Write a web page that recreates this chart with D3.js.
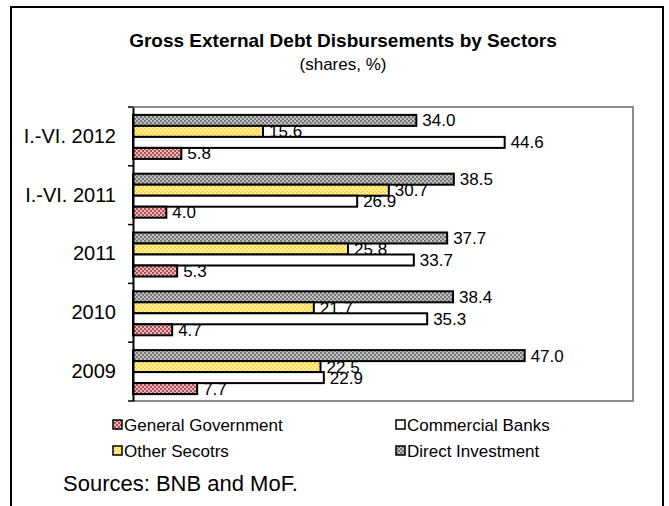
<!DOCTYPE html>
<html><head><meta charset="utf-8">
<script src="https://cdn.jsdelivr.net/npm/d3@7"></script>
<style>body{margin:0;background:#fff;font-family:Arial,"Liberation Sans",sans-serif}</style>
</head><body>
<svg id="c" width="669" height="506"></svg>
<script>
const categories = ["I.-VI. 2012", "I.-VI. 2011", "2011", "2010", "2009"];
const seriesNames = ["General Government", "Commercial Banks", "Other Secotrs", "Direct Investment"];
const generalGovernment = [5.8, 4.0, 5.3, 4.7, 7.7];
const commercialBanks = [44.6, 26.9, 33.7, 35.3, 22.9];
const otherSectors = [15.6, 30.7, 25.8, 21.7, 22.5];
const directInvestment = [34.0, 38.5, 37.7, 38.4, 47.0];
const seriesValues = [generalGovernment, commercialBanks, otherSectors, directInvestment];

const svg = d3.select("#c");
const defs = svg.append("defs");
function checker(id, c1, c2) {
  const p = defs.append("pattern").attr("id", id).attr("width", 4).attr("height", 4)
    .attr("patternUnits", "userSpaceOnUse");
  p.append("rect").attr("width", 4).attr("height", 4).attr("fill", c2);
  p.append("rect").attr("width", 2).attr("height", 2).attr("fill", c1);
  p.append("rect").attr("x", 2).attr("y", 2).attr("width", 2).attr("height", 2).attr("fill", c1);
}
checker("pGG", "#b0505a", "#e8b8b8");
checker("pOS", "#ffd84a", "#fff0a8");
checker("pDI", "#787878", "#c0c0c0");
const fills = ["url(#pGG)", "#ffffff", "url(#pOS)", "url(#pDI)"];

// outer frame
svg.append("path").attr("d", "M11,506 V7 H663 V506").attr("fill", "none")
  .attr("stroke", "#000").attr("stroke-width", 2);

svg.append("text").attr("x", 343).attr("y", 47).attr("text-anchor", "middle")
  .attr("font-weight", "bold").attr("font-size", 19).text("Gross External Debt Disbursements by Sectors");
svg.append("text").attr("x", 343).attr("y", 70).attr("text-anchor", "middle")
  .attr("font-size", 17).text("(shares, %)");

const L = 133, R = 633, T = 107, B = 401;
const x = d3.scaleLinear().domain([0, 60]).range([L, R]);
const y = d3.scaleBand().domain(categories).range([T, B]);
// inner band for the 4 bars (top-to-bottom: DI, OS, CB, GG)
const order = [3, 2, 1, 0];
const barH = 11;
const inner = d3.scaleBand().domain(order).range([0, barH * 4]);

// plot area border
svg.append("path").attr("d", `M${L},${T} H${R} V${B} H${L}`).attr("fill", "none")
  .attr("stroke", "#8c8c8c").attr("stroke-width", 2);

const g = svg.append("g");
categories.forEach((cat, ci) => {
  const off = y(cat) + (y.bandwidth() - barH * 4) / 2 + 0.5;
  order.forEach(si => {
    const v = seriesValues[si][ci];
    const yy = off + inner(si);
    g.append("rect").attr("x", x(0)).attr("y", yy).attr("width", x(v) - x(0)).attr("height", inner.bandwidth())
      .attr("fill", fills[si]).attr("stroke", "#000").attr("stroke-width", 2);
  });
  order.forEach(si => {
    const v = seriesValues[si][ci];
    const yy = off + inner(si);
    g.append("text").attr("x", x(v) + 6).attr("y", yy + inner.bandwidth() / 2 + 6)
      .attr("font-size", 17).text(v.toFixed(1));
  });
});

// y axis
const ax = svg.append("g").attr("transform", `translate(${L},0)`)
  .call(d3.axisLeft(y).tickSize(0).tickPadding(17));
ax.select(".domain").attr("stroke", "#000").attr("stroke-width", 2);
ax.selectAll("text").attr("font-size", 20).attr("font-family", "Arial,'Liberation Sans',sans-serif").attr("fill", "#000");
const bounds = categories.map(c => y(c)).concat([B]);
svg.append("g").selectAll("line").data(bounds).join("line")
  .attr("x1", L - 5).attr("x2", L).attr("y1", d => d).attr("y2", d => d)
  .attr("stroke", "#000").attr("stroke-width", 1.5);

// legend
const legendPos = [[113, 425], [396, 425], [113, 451], [396, 451]];
seriesNames.forEach((n, i) => {
  const [lx, ly] = legendPos[i];
  svg.append("rect").attr("x", lx).attr("y", ly - 5).attr("width", 9).attr("height", 9)
    .attr("fill", fills[i]).attr("stroke", "#000").attr("stroke-width", 1.5);
  svg.append("text").attr("x", lx + 11).attr("y", ly + 6).attr("font-size", 17).text(n);
});

svg.append("text").attr("x", 63).attr("y", 491).attr("font-size", 22).text("Sources: BNB and MoF.");
</script>
</body></html>
